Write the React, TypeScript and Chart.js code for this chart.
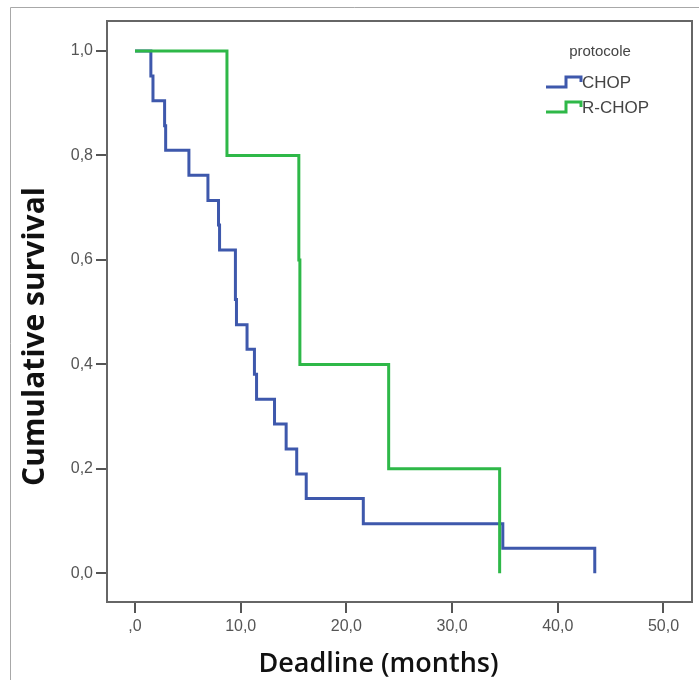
import { useEffect, useRef } from "react";
import { Chart, registerables } from "chart.js";

Chart.register(...registerables);

// CHOP group (Kaplan-Meier steps: time in months, survival after the event)
const chopTimes = [0, 1.5, 1.7, 2.8, 2.9, 5.1, 6.9, 7.9, 8.0, 9.5, 9.6, 10.6, 11.3, 11.5, 13.2, 14.3, 15.3, 16.2, 21.6, 34.8, 43.5];
const chopSurvival = [1.0, 0.952, 0.905, 0.857, 0.81, 0.762, 0.714, 0.667, 0.619, 0.524, 0.476, 0.429, 0.381, 0.333, 0.286, 0.238, 0.19, 0.143, 0.095, 0.048, 0.0];

// R-CHOP group
const rchopTimes = [0, 8.7, 15.5, 15.6, 24.0, 34.5];
const rchopSurvival = [1.0, 0.8, 0.6, 0.4, 0.2, 0.0];

const seriesLabels = ["CHOP", "R-CHOP"];
const legendTitle = "protocole";

const xTickValues = [0, 10, 20, 30, 40, 50];
const xTickLabels = [",0", "10,0", "20,0", "30,0", "40,0", "50,0"];
const yTickValues = [0, 0.2, 0.4, 0.6, 0.8, 1.0];
const yTickLabels = ["0,0", "0,2", "0,4", "0,6", "0,8", "1,0"];

const xTitle = "Deadline (months)";
const yTitle = "Cumulative survival";

const BLUE = "#3E58AC";
const GREEN = "#2EB848";

export default function App() {
  const ref = useRef<HTMLCanvasElement | null>(null);

  useEffect(() => {
    document.body.style.margin = "0";
    const canvas = ref.current;
    if (!canvas) return;

    const decor = {
      id: "decor",
      beforeDraw(chart: any) {
        const ctx = chart.ctx;
        ctx.save();
        ctx.fillStyle = "#ffffff";
        ctx.fillRect(0, 0, chart.width, chart.height);
        ctx.strokeStyle = "#a8a8a8";
        ctx.lineWidth = 1;
        ctx.beginPath();
        ctx.moveTo(10.5, chart.height);
        ctx.lineTo(10.5, 7.5);
        ctx.lineTo(chart.width, 7.5);
        ctx.stroke();
        ctx.restore();
      },
      afterDraw(chart: any) {
        const ctx = chart.ctx;
        const { left, top, right, bottom } = chart.chartArea;
        ctx.save();
        // plot frame
        ctx.strokeStyle = "#666666";
        ctx.lineWidth = 2;
        ctx.strokeRect(left, top, right - left, bottom - top);

        // axis titles
        ctx.fillStyle = "#111111";
        ctx.font = "bold 30px 'Open Sans'";
        ctx.textAlign = "center";
        ctx.textBaseline = "middle";
        ctx.save();
        ctx.translate(left - 72, (top + bottom) / 2 + 25);
        ctx.rotate(-Math.PI / 2);
        ctx.fillText(yTitle, 0, 0);
        ctx.restore();

        ctx.font = "600 27px 'Open Sans'";
        ctx.textBaseline = "alphabetic";
        ctx.fillText(xTitle, (left + right) / 2 - 21, bottom + 70);

        // legend
        ctx.fillStyle = "#444444";
        ctx.font = "15px 'Liberation Sans'";
        ctx.textAlign = "center";
        ctx.textBaseline = "middle";
        ctx.fillText(legendTitle, right - 92, top + 31);

        const lx = right - 146;
        chart.data.datasets.forEach((ds: any, i: number) => {
          const y = top + 62 + i * 25;
          ctx.strokeStyle = ds.borderColor;
          ctx.lineWidth = 3;
          ctx.beginPath();
          ctx.moveTo(lx, y + 4);
          ctx.lineTo(lx + 20, y + 4);
          ctx.lineTo(lx + 20, y - 6);
          ctx.lineTo(lx + 35, y - 6);
          ctx.lineTo(lx + 35, y - 1);
          ctx.stroke();
          ctx.fillStyle = "#444444";
          ctx.font = "17px 'Liberation Sans'";
          ctx.textAlign = "left";
          ctx.fillText(ds.label, lx + 36, y);
        });
        ctx.restore();
      },
    };

    const chart = new Chart(canvas, {
      type: "line",
      data: {
        datasets: [
          {
            label: seriesLabels[0],
            data: chopTimes.map((t, i) => ({ x: t, y: chopSurvival[i] })),
            borderColor: BLUE,
            borderWidth: 3,
            stepped: "before",
            pointRadius: 0,
            fill: false,
            order: 1,
          },
          {
            label: seriesLabels[1],
            data: rchopTimes.map((t, i) => ({ x: t, y: rchopSurvival[i] })),
            borderColor: GREEN,
            borderWidth: 3,
            stepped: "before",
            pointRadius: 0,
            fill: false,
            order: 0,
          },
        ],
      },
      options: {
        responsive: false,
        animation: false,
        devicePixelRatio: 1,
        layout: { padding: { top: 21, right: 7, left: 0, bottom: 0 } },
        plugins: {
          legend: { display: false },
          tooltip: { enabled: false },
        },
        scales: {
          x: {
            type: "linear",
            min: -2.65,
            max: 52.7,
            afterFit: (scale: any) => {
              scale.height = 78;
            },
            afterBuildTicks: (scale: any) => {
              scale.ticks = xTickValues.map((v) => ({ value: v }));
            },
            ticks: {
              autoSkip: false,
              maxRotation: 0,
              padding: 4,
              color: "#555555",
              font: { family: "'Liberation Sans'", size: 16 },
              callback: (_v: any, i: number) => xTickLabels[i],
            },
            grid: {
              drawOnChartArea: false,
              drawTicks: true,
              tickLength: 11,
              tickColor: "#555555",
              lineWidth: 2,
            },
            border: { display: false },
          },
          y: {
            type: "linear",
            min: -0.055,
            max: 1.0575,
            afterFit: (scale: any) => {
              scale.width = 107;
            },
            afterBuildTicks: (scale: any) => {
              scale.ticks = yTickValues.map((v) => ({ value: v }));
            },
            ticks: {
              autoSkip: false,
              padding: 3,
              color: "#555555",
              font: { family: "'Liberation Sans'", size: 16 },
              callback: (_v: any, i: number) => yTickLabels[i],
            },
            grid: {
              drawOnChartArea: false,
              drawTicks: true,
              tickLength: 11,
              tickColor: "#555555",
              lineWidth: 2,
            },
            border: { display: false },
          },
        },
      },
      plugins: [decor],
    });

    return () => chart.destroy();
  }, []);

  return (
    <div style={{ width: 699, height: 680 }}>
      <canvas ref={ref} width={699} height={680} style={{ display: "block", width: 699, height: 680 }} />
    </div>
  );
}
